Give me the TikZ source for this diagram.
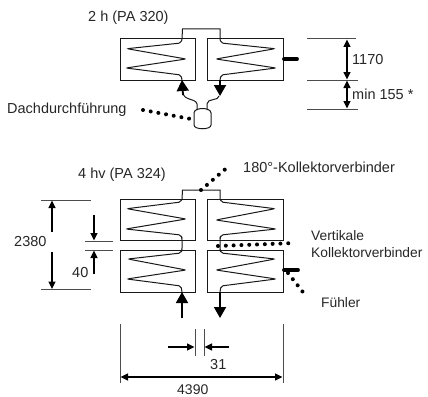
\documentclass[tikz,border=0pt]{standalone}
\usepackage{fontspec}
\setmainfont{Liberation Sans}
\usetikzlibrary{arrows.meta}
\tikzset{
  ln/.style={line width=1pt,black!90},
  dim/.style={line width=1pt,black!70},
  lbl/.style={inner sep=0pt,anchor=west,font=\fontsize{14.5}{16}\selectfont,text=black!85},
  lblb/.style={lbl,font=\fontsize{13.8}{15}\selectfont},
  dimarr/.style={line width=1.3pt,black,-{Triangle[length=7.5pt,width=7pt]}},
  dimarrb/.style={line width=1.3pt,black,{Triangle[length=7.5pt,width=7pt]}-{Triangle[length=7.5pt,width=7pt]}},
  flow/.style={line width=1.8pt,black,-{Triangle[length=11pt,width=12pt]}},
  dots/.style={line width=4pt,line cap=round,dash pattern=on 0.01pt off 7.8pt},
  stub/.style={line width=3.8pt,line cap=round},
  coil/.style={ln,rounded corners=2pt},
}
\begin{document}
\begin{tikzpicture}[x=1pt,y=-1pt]
\useasboundingbox (0,0) rectangle (428,396);
% --- top unit: 2 h
\node[lbl] (t2h) at (88,18) {2 h (PA 320)};
\draw[ln] (120,39) rectangle (195.5,80);
\draw[ln] (207,39) rectangle (283,80);
\draw[ln] (182,39) -- (182.5,29) -- (220,29) -- (220,39);
\draw[coil] (182,39) -- (181,43) -- (127,48.7) -- (186,59) -- (126,68) -- (181,75) -- (182,80);
\draw[coil] (220,39) -- (221,43) -- (275,48.7) -- (216,59) -- (276,68) -- (221,75) -- (220,80);
\draw[ln] (183,92) .. controls (183,101) and (196,98) .. (197,104) -- (197,110);
\draw[ln] (219,96) .. controls (219,101) and (207,98) .. (207,104) -- (207,110);
\draw[flow] (183,95) -- (182,80);
\draw[flow] (220,80) -- (220,96);
\draw[ln] (194,113) .. controls (194,107) and (211,107) .. (211,113) -- (211,125) .. controls (211,130) and (194,130) .. (194,125) -- cycle;
\node[lbl] (dach) at (7,110) {Dachdurchführung};
\coordinate (d1) at (143,110); \coordinate (d2) at (191,119);
\draw[dots] (d1) -- (d2);
\draw[stub] (284,59) -- (297,59);
\draw[dim] (307,39) -- (356,39);
\draw[dim] (307,80) -- (358,80);
\draw[dim] (307,109) -- (358,109);
\draw[dimarrb] (347,39.5) -- (347,79.5);
\draw[dimarrb] (347,80.5) -- (347,108.5);
\node[lbl] (h1) at (352,60) {1170};
\node[lbl] (h2) at (352,94) {min 155 *};
% --- bottom unit: 4 hv
\node[lbl] (t4h) at (78,175) {4 hv (PA 324)};
\node[lbl] (t180) at (243,167) {180°-Kollektorverbinder};
\draw[ln] (120,199) rectangle (195.5,240);
\draw[ln] (207,199) rectangle (283,240);
\draw[ln] (120,250) rectangle (195.5,292);
\draw[ln] (207,250) rectangle (283,292);
\draw[ln] (182,199) -- (182.5,190) -- (220,190) -- (220,199);
\draw[coil] (182,199) -- (181,202) -- (127,208.7) -- (186,219) -- (126,229) -- (181,235) -- (182,238) -- (182,250) -- (181,253) -- (128,259) -- (186,270) -- (127,279) -- (181,286) -- (182,292);
\draw[coil] (220,199) -- (221,202) -- (275,208.7) -- (216,220) -- (276,229) -- (221,235) -- (220,238) -- (220,250) -- (221,253) -- (275,259) -- (216,270) -- (276,279) -- (221,286) -- (220,292);
\draw[flow] (182,318) -- (182,292);
\draw[flow] (220,292) -- (220,318);
\coordinate (c1) at (201,190); \coordinate (c2) at (229,166);
\draw[dots] (c1) -- (c2);
\coordinate (v1) at (218,246); \coordinate (v2) at (295,243);
\draw[dots] (v1) -- (v2);
\node[lblb] (vert) at (311,236) {Vertikale};
\node[lblb] (koll) at (311,253) {Kollektorverbinder};
\draw[stub] (284,270) -- (298,270);
\coordinate (f1) at (288,273); \coordinate (f2) at (306,296);
\draw[dots] (f1) -- (f2);
\node[lblb] (fuehler) at (321,303) {Fühler};
% dimensions left
\draw[dim] (41,200) -- (91,200);
\draw[dim] (41,289.5) -- (91,289.5);
\draw[dimarr] (52,232) -- (52,200.5);
\draw[dimarr] (52,252) -- (52,289);
\node[lbl] (h2380) at (14,242) {2380};
\draw[dim] (85,241) -- (113,241);
\draw[dim] (85,250) -- (113,250);
\draw[dimarr] (94,215) -- (94,240.5);
\draw[dimarr] (94,274) -- (94,250.5);
\node[lbl] (h40) at (72,273) {40};
% dimensions bottom
\draw[dim] (120,324) -- (120,383);
\draw[dim] (283,324) -- (283,383);
\draw[dim] (195,329) -- (195,356);
\draw[dim] (204,329) -- (204,356);
\draw[dimarr] (168,347) -- (194.5,347);
\draw[dimarr] (229,347) -- (204.5,347);
\node[lbl] (w31) at (210,365) {31};
\draw[dimarrb] (120.5,377) -- (282.5,377);
\node[lbl,font=\fontsize{14}{15}\selectfont] (w4390) at (177,389.5) {4390};
\end{tikzpicture}
\end{document}
